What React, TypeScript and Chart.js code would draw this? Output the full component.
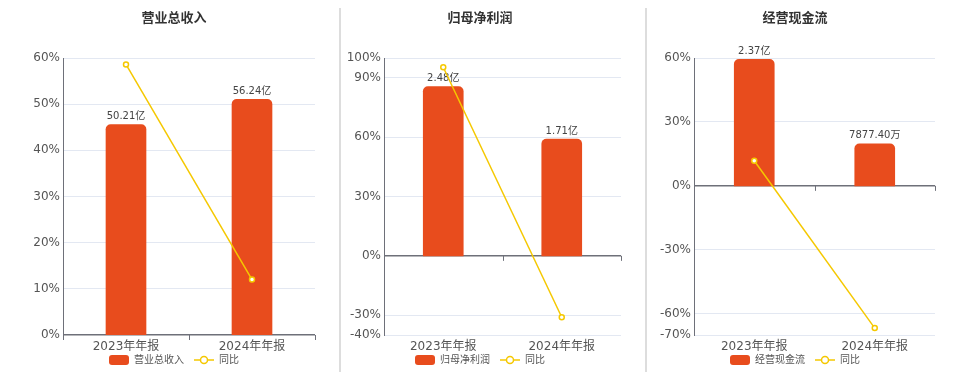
import React, { useEffect, useRef } from 'react';
import { Chart, registerables } from 'chart.js';

Chart.register(...registerables);

// ---------- data ----------
const categories = ['2023年年报', '2024年年报'];

const revenueTitle = '营业总收入';
const revenueValues = [50.21, 56.24]; // 亿
const revenueLabels = ['50.21亿', '56.24亿'];
const revenueYoY = [58.6, 12.01]; // %
const revenueTicks = [0, 10, 20, 30, 40, 50, 60];
const revenueBarRange = [0, 66.1];

const profitTitle = '归母净利润';
const profitValues = [2.48, 1.71]; // 亿
const profitLabels = ['2.48亿', '1.71亿'];
const profitYoY = [95.3, -31.05];
const profitTicks = [-40, -30, 0, 30, 60, 90, 100];
const profitBarRange = [-1.16, 2.9];

const cashTitle = '经营现金流';
const cashValues = [2.37, 0.787740]; // 亿
const cashLabels = ['2.37亿', '7877.40万'];
const cashYoY = [11.8, -66.76];
const cashTicks = [-70, -60, -30, 0, 30, 60];
const cashBarRange = [-2.793, 2.394];

const yoyLabel = '同比';

// ---------- style ----------
const FONT = "'DejaVu Sans', 'Noto Sans CJK SC', sans-serif";
const BAR_COLOR = '#E84C1D';
const LINE_COLOR = '#F5C800';
const AXIS_COLOR = '#6E7079';
const GRID_COLOR = '#E3E8F2';
const TEXT_COLOR = '#555';

function makeBarIcon(color: string) {
  const c = document.createElement('canvas');
  c.width = 20;
  c.height = 10;
  const g = c.getContext('2d')!;
  g.fillStyle = color;
  g.beginPath();
  (g as any).roundRect(0, 0, 20, 10, 3);
  g.fill();
  return c;
}

function makeLineIcon(color: string) {
  const c = document.createElement('canvas');
  c.width = 20;
  c.height = 10;
  const g = c.getContext('2d')!;
  g.strokeStyle = color;
  g.lineWidth = 1.5;
  g.beginPath();
  g.moveTo(0, 5);
  g.lineTo(20, 5);
  g.stroke();
  g.beginPath();
  g.arc(10, 5, 3.5, 0, Math.PI * 2);
  g.fillStyle = '#fff';
  g.fill();
  g.stroke();
  return c;
}

type PanelProps = {
  title: string;
  values: number[];
  labels: string[];
  yoy: number[];
  ticks: number[];
  barRange: number[];
  left: number;
  width: number;
  axisWidth: number;
};

function Panel(p: PanelProps) {
  const ref = useRef<HTMLCanvasElement | null>(null);

  useEffect(() => {
    if (!ref.current) return;
    const barIcon = makeBarIcon(BAR_COLOR);
    const lineIcon = makeLineIcon(LINE_COLOR);

    const labelPlugin = {
      id: 'barLabels',
      afterDatasetDraw(chart: any, args: any) {
        if (args.index !== 0) return;
        const ctx = chart.ctx;
        ctx.save();
        ctx.font = `10px ${FONT}`;
        ctx.fillStyle = '#444';
        ctx.textAlign = 'center';
        ctx.textBaseline = 'bottom';
        args.meta.data.forEach((bar: any, i: number) => {
          ctx.fillText(p.labels[i], bar.x, bar.y - 3);
        });
        ctx.restore();
      },
    };

    const zeroTicksPlugin = {
      id: 'zeroTicks',
      afterLayout(chart: any) {
        // let the category labels draw below the compact axis box without clipping
        const xs = chart.scales.x;
        xs.bottom = xs.top + 26;
        xs.height = 26;
      },
      beforeDatasetsDraw(chart: any) {
        const xs = chart.scales.x;
        const ys = chart.scales.y;
        const y0 = ys.getPixelForValue(0);
        const ctx = chart.ctx;
        ctx.save();
        ctx.strokeStyle = AXIS_COLOR;
        ctx.lineWidth = 1;
        ctx.beginPath();
        for (let i = 0; i <= categories.length; i++) {
          const px = Math.round(xs.getPixelForValue(i - 0.5)) + 0.5;
          ctx.moveTo(px, y0);
          ctx.lineTo(px, y0 + 5);
        }
        ctx.stroke();
        ctx.restore();
      },
    };

    const chart = new Chart(ref.current, {
      type: 'bar',
      data: {
        labels: categories,
        datasets: [
          {
            type: 'bar',
            label: p.title,
            data: p.values,
            yAxisID: 'yBar',
            backgroundColor: BAR_COLOR,
            barThickness: 40,
            borderRadius: 5,
            borderSkipped: 'start',
            order: 2,
          } as any,
          {
            type: 'line',
            label: yoyLabel,
            data: p.yoy,
            yAxisID: 'y',
            borderColor: LINE_COLOR,
            borderWidth: 1.5,
            pointRadius: 2.5,
            pointBorderWidth: 1.5,
            pointBackgroundColor: '#fff',
            pointBorderColor: LINE_COLOR,
            tension: 0,
            clip: false,
            order: 1,
          } as any,
        ],
      },
      options: {
        responsive: false,
        animation: false,
        events: [],
        layout: { padding: { left: 0, right: 10, top: 0, bottom: 0 } },
        scales: {
          x: {
            type: 'category',
            grid: { display: false, drawTicks: false },
            border: { display: false },
            ticks: { color: TEXT_COLOR, font: { size: 12, family: FONT }, padding: 5, maxRotation: 0 },
            afterFit: (scale: any) => {
              scale.height = 10;
            },
          },
          y: {
            type: 'linear',
            position: 'left',
            min: p.ticks[0],
            max: p.ticks[p.ticks.length - 1],
            afterBuildTicks: (scale: any) => {
              scale.ticks = p.ticks.map((v) => ({ value: v }));
            },
            afterFit: (scale: any) => {
              scale.width = p.axisWidth;
            },
            ticks: {
              color: TEXT_COLOR,
              font: { size: 12, family: FONT },
              padding: 3,
              autoSkip: false,
              callback: (v: any) => `${v}%`,
            },
            grid: {
              drawTicks: false,
              color: (c: any) => (c.tick && c.tick.value === 0 ? AXIS_COLOR : GRID_COLOR),
              lineWidth: (c: any) => (c.tick && c.tick.value === 0 ? 1.5 : 1),
            },
            border: { display: true, color: AXIS_COLOR, width: 1 },
          },
          yBar: {
            type: 'linear',
            display: false,
            min: p.barRange[0],
            max: p.barRange[1],
          },
        },
        plugins: {
          tooltip: { enabled: false },
          title: {
            display: true,
            text: p.title,
            color: '#333',
            font: { size: 13, weight: 'bold', family: FONT },
            padding: { top: 11, bottom: 31.4 },
          },
          legend: {
            display: true,
            position: 'bottom',
            maxHeight: 27,
            labels: {
              usePointStyle: true,
              pointStyleWidth: 20,
              boxHeight: 10,
              padding: 10,
              color: TEXT_COLOR,
              font: { size: 10, family: FONT },
              generateLabels: (ch: any) =>
                ch.data.datasets.map((ds: any, i: number) => ({
                  text: ds.label,
                  pointStyle: i === 0 ? barIcon : lineIcon,
                  datasetIndex: i,
                  fontColor: TEXT_COLOR,
                  fillStyle: 'transparent',
                  strokeStyle: 'transparent',
                  lineWidth: 0,
                  hidden: false,
                })),
            },
          },
        },
      } as any,
      plugins: [labelPlugin, zeroTicksPlugin],
    });
    return () => chart.destroy();
  }, []);

  return (
    <canvas
      ref={ref}
      width={p.width}
      height={372}
      style={{ position: 'absolute', left: p.left, top: 0, width: p.width, height: 372 }}
    />
  );
}

export default function App() {
  return (
    <div
      style={{
        position: 'absolute',
        left: 0,
        top: 0,
        width: 960,
        height: 372,
        background: '#fff',
        overflow: 'hidden',
      }}
    >
      <div style={{ position: 'absolute', left: 339, top: 8, width: 2, height: 364, background: '#ddd' }} />
      <div style={{ position: 'absolute', left: 645, top: 8, width: 2, height: 364, background: '#ddd' }} />
      <Panel
        title={revenueTitle}
        values={revenueValues}
        labels={revenueLabels}
        yoy={revenueYoY}
        ticks={revenueTicks}
        barRange={revenueBarRange}
        left={33}
        width={292}
        axisWidth={30}
      />
      <Panel
        title={profitTitle}
        values={profitValues}
        labels={profitLabels}
        yoy={profitYoY}
        ticks={profitTicks}
        barRange={profitBarRange}
        left={339}
        width={292}
        axisWidth={45}
      />
      <Panel
        title={cashTitle}
        values={cashValues}
        labels={cashLabels}
        yoy={cashYoY}
        ticks={cashTicks}
        barRange={cashBarRange}
        left={655}
        width={290}
        axisWidth={39}
      />
    </div>
  );
}
